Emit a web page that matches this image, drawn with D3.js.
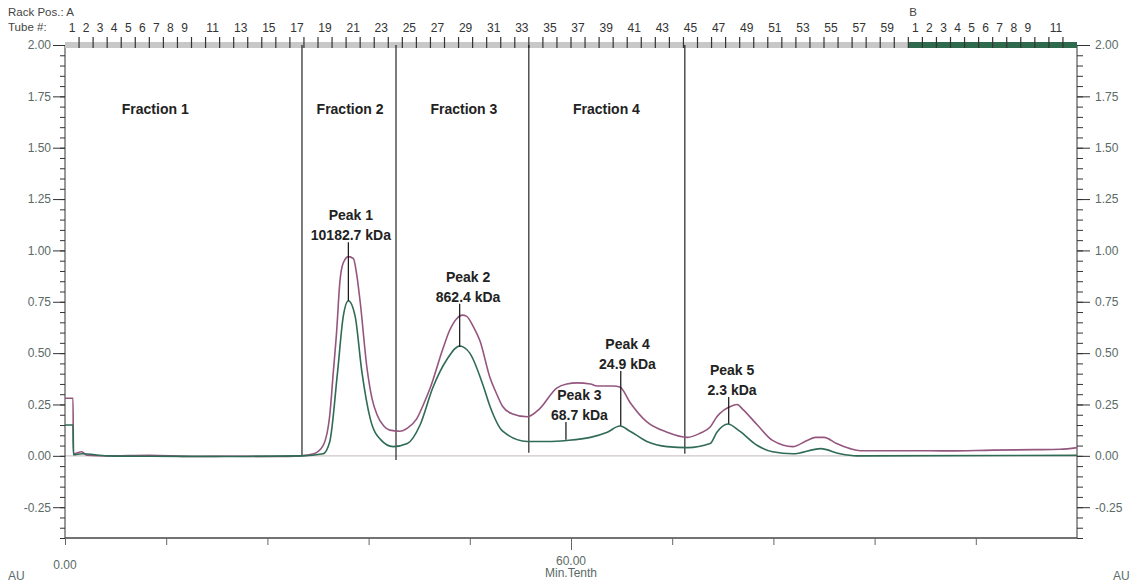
<!DOCTYPE html>
<html>
<head>
<meta charset="utf-8">
<script src="https://cdn.jsdelivr.net/npm/d3@7"></script>
<style>
  body { margin: 0; background: #fff; }
  text { font-family: "Liberation Sans", Arial, sans-serif; }
  .axisText { fill: #5a6a66; font-size: 12px; }
  .peakText { fill: #222; font-size: 14px; font-weight: bold; }
</style>
</head>
<body>
<div id="chart"></div>
<script>
// Chromatogram data (time in Min.Tenth, absorbance in AU)
var purpleTime = [0, 0.95, 1.0, 2.0, 2.6, 5, 10, 15, 20, 25, 28, 29.5, 30.6, 31.4, 31.8, 32.2, 32.6, 33.0, 33.6, 34.2, 34.6, 35.0, 35.8, 36.4, 37.0, 37.8, 38.5, 39.7, 40.6, 41.7, 42.5, 43.3, 44.8, 45.6, 46.5, 47.1, 47.6, 48.4, 49.2, 50.4, 51.2, 51.9, 53.0, 54.8, 56.3, 58.3, 59.5, 60.7, 62.3, 63.1, 65.0, 65.8, 67.0, 69.0, 71.4, 73.8, 75.3, 76.5, 77.3, 79.2, 79.7, 80.4, 82.1, 83.9, 86.3, 88.0, 89.0, 90.0, 91.5, 93.1, 94.3, 100, 105, 110, 115, 118, 120];
var purpleValue = [0.28, 0.28, 0.01, 0.02, 0.003, 0.0, 0.003, -0.003, -0.002, -0.003, 0.0, 0.01, 0.05, 0.2, 0.4, 0.6, 0.85, 0.94, 0.97, 0.96, 0.88, 0.75, 0.43, 0.28, 0.2, 0.145, 0.125, 0.12, 0.135, 0.18, 0.25, 0.33, 0.52, 0.61, 0.67, 0.685, 0.68, 0.63, 0.56, 0.38, 0.3, 0.24, 0.205, 0.19, 0.23, 0.33, 0.35, 0.355, 0.35, 0.34, 0.34, 0.335, 0.26, 0.165, 0.115, 0.09, 0.11, 0.14, 0.19, 0.245, 0.25, 0.225, 0.15, 0.075, 0.045, 0.075, 0.09, 0.09, 0.06, 0.035, 0.025, 0.025, 0.024, 0.028, 0.03, 0.032, 0.04];

var greenTime = [0, 0.95, 1.0, 2, 5, 10, 20, 28, 30.6, 31.4, 32.3, 33.0, 33.6, 34.4, 35.2, 36.2, 37.4, 38.9, 40.6, 42.1, 43.6, 45.3, 46.8, 48.0, 49.6, 50.4, 51.9, 54.8, 57.2, 59.5, 62.3, 64.3, 65.8, 67.0, 69.0, 71.4, 73.8, 76.5, 77.3, 78.6, 80.0, 82.1, 83.9, 86.3, 89.6, 91.9, 93.9, 120];
var greenValue = [0.15, 0.15, 0.005, 0.01, 0.0, -0.002, -0.003, 0.0, 0.01, 0.07, 0.4, 0.68, 0.755, 0.68, 0.41, 0.18, 0.08, 0.045, 0.06, 0.15, 0.33, 0.47, 0.535, 0.5, 0.34, 0.24, 0.12, 0.07, 0.07, 0.075, 0.09, 0.115, 0.145, 0.12, 0.07, 0.045, 0.04, 0.06, 0.115, 0.155, 0.12, 0.05, 0.02, 0.01, 0.035, 0.01, 0.0, 0.002];

// Fractions
var fractionNames = ["Fraction 1", "Fraction 2", "Fraction 3", "Fraction 4"];
var fractionLabelTime = [10.7, 33.8, 47.3, 64.2];
var fractionCuts = [28.1, 39.25, 55.0, 73.5];
var fractionCutBottoms = [0.0, -0.02, 0.015, 0.01];

// Peaks
var peakNames = ["Peak 1", "Peak 2", "Peak 3", "Peak 4", "Peak 5"];
var peakMass = ["10182.7 kDa", "862.4 kDa", "68.7 kDa", "24.9 kDa", "2.3 kDa"];
var peakTime = [33.6, 46.8, 59.4, 65.9, 78.7];
var peakTop = [1.04, 0.74, 0.165, 0.413, 0.287];
var peakBottom = [0.755, 0.53, 0.078, 0.146, 0.156];
var peakLabelTime = [33.9, 47.8, 61.0, 66.7, 79.1];

// Fraction collector racks
var rackATubes = 60;
var rackBTubes = 12;
var tubeWidth = 5 / 3;
var rackALabels = [1, 2, 3, 4, 5, 6, 7, 8, 9, 11, 13, 15, 17, 19, 21, 23, 25, 27, 29, 31, 33, 35, 37, 39, 41, 43, 45, 47, 49, 51, 53, 55, 57, 59];
var rackBLabels = [1, 2, 3, 4, 5, 6, 7, 8, 9, 11];

var svgWidth = 1132;
var svgHeight = 583;
var margin = { top: 45, right: 55, bottom: 45, left: 65 };
var width = svgWidth - margin.left - margin.right;
var height = svgHeight - margin.top - margin.bottom;

var svg = d3.select("#chart")
  .append("svg")
  .attr("width", svgWidth)
  .attr("height", svgHeight);

var chartGroup = svg.append("g")
  .attr("transform", `translate(${margin.left}, ${margin.top})`);

var xScale = d3.scaleLinear().domain([0, 120]).range([0, width]);
var yScale = d3.scaleLinear().domain([-0.4, 2.0]).range([height, 0]);

// plain hyphen instead of unicode minus
var auFormat = d => d3.format(".2f")(d).replace("\u2212", "-");

// Zero baseline
chartGroup.append("line")
  .attr("x1", 0).attr("x2", width)
  .attr("y1", yScale(0)).attr("y2", yScale(0))
  .attr("stroke", "#cfc6ca")
  .attr("stroke-width", 1.2);

// Left axis: major + minor ticks
var majorTicks = d3.range(-0.25, 2.0001, 0.25);
var minorTicks = d3.range(-0.4, 2.0001, 0.05);

chartGroup.append("g")
  .call(d3.axisLeft(yScale).tickValues(minorTicks).tickSize(5).tickFormat(""))
  .call(g => g.select(".domain").remove())
  .selectAll("line").attr("stroke", "#333");

var leftAxis = chartGroup.append("g")
  .call(d3.axisLeft(yScale).tickValues(majorTicks).tickSize(12).tickPadding(2).tickFormat(auFormat));
leftAxis.select(".domain").attr("stroke", "#333").attr("d", `M0,0V${height}`);
leftAxis.selectAll("line").attr("stroke", "#333");
leftAxis.selectAll("text").attr("class", "axisText").attr("font-size", 12).attr("fill", "#56706a");

// Right axis
chartGroup.append("g")
  .attr("transform", `translate(${width}, 0)`)
  .call(d3.axisRight(yScale).tickValues(minorTicks).tickSize(6).tickFormat(""))
  .call(g => g.select(".domain").remove())
  .selectAll("line").attr("stroke", "#333");

var rightAxis = chartGroup.append("g")
  .attr("transform", `translate(${width}, 0)`)
  .call(d3.axisRight(yScale).tickValues(majorTicks).tickSize(13).tickPadding(5).tickFormat(auFormat));
rightAxis.select(".domain").attr("stroke", "#333").attr("d", `M0,0V${height}`);
rightAxis.selectAll("line").attr("stroke", "#333");
rightAxis.selectAll("text").attr("class", "axisText").attr("font-size", 12).attr("fill", "#7a7a7a");

// Bottom axis
var bottomAxis = chartGroup.append("g")
  .attr("transform", `translate(0, ${height})`)
  .call(d3.axisBottom(xScale).tickValues(d3.range(0, 120, 12)).tickSize(7).tickFormat(""));
bottomAxis.select(".domain").attr("stroke", "#444").attr("stroke-width", 1.5).attr("d", `M0,0H${width}`);
bottomAxis.selectAll("line").attr("stroke", "#666");
bottomAxis.selectAll(".tick").filter(d => d === 60).select("line").attr("y2", 12);

chartGroup.append("text")
  .attr("class", "axisText")
  .attr("x", xScale(0)).attr("y", height + 31)
  .attr("text-anchor", "middle")
  .attr("fill", "#555")
  .text("0.00");

chartGroup.append("text")
  .attr("class", "axisText")
  .attr("x", xScale(60)).attr("y", height + 27)
  .attr("text-anchor", "middle")
  .attr("fill", "#555")
  .text("60.00");

chartGroup.append("text")
  .attr("class", "axisText")
  .attr("x", xScale(60)).attr("y", height + 39)
  .attr("text-anchor", "middle")
  .attr("font-size", 11)
  .attr("fill", "#555")
  .text("Min.Tenth");

svg.append("text").attr("class", "axisText").attr("x", 8).attr("y", 580).attr("fill", "#555").text("AU");
svg.append("text").attr("class", "axisText").attr("x", 1113).attr("y", 580).attr("fill", "#555").text("AU");

// Rack / tube bar on top
var tubeX = t => xScale((t - 0.5) * tubeWidth);

chartGroup.append("rect")
  .attr("x", xScale(0)).attr("y", -3)
  .attr("width", xScale(rackATubes * tubeWidth) - xScale(0)).attr("height", 6)
  .attr("fill", "#c8c8c8");

chartGroup.append("rect")
  .attr("x", xScale(rackATubes * tubeWidth)).attr("y", -3)
  .attr("width", xScale((rackATubes + rackBTubes) * tubeWidth) - xScale(rackATubes * tubeWidth)).attr("height", 6)
  .attr("fill", "#2f6a4e");

chartGroup.selectAll(".tubeTick")
  .data(d3.range(1, rackATubes + rackBTubes))
  .enter()
  .append("line")
  .attr("class", "tubeTick")
  .attr("x1", d => xScale(d * tubeWidth)).attr("x2", d => xScale(d * tubeWidth))
  .attr("y1", -8).attr("y2", 3)
  .attr("stroke", "#333")
  .attr("stroke-width", 1.2);

chartGroup.selectAll(".tubeA")
  .data(rackALabels)
  .enter()
  .append("text")
  .attr("class", "tubeA")
  .attr("x", d => tubeX(d)).attr("y", -13)
  .attr("text-anchor", "middle")
  .attr("font-size", 12)
  .attr("fill", "#333")
  .text(d => d);

chartGroup.selectAll(".tubeB")
  .data(rackBLabels)
  .enter()
  .append("text")
  .attr("class", "tubeB")
  .attr("x", d => tubeX(d + rackATubes)).attr("y", -13)
  .attr("text-anchor", "middle")
  .attr("font-size", 12)
  .attr("fill", "#333")
  .text(d => d);

svg.append("text").attr("x", 8).attr("y", 16).attr("font-size", 11.5).attr("fill", "#444").text("Rack Pos.: A");
svg.append("text").attr("x", 8).attr("y", 31).attr("font-size", 11.5).attr("fill", "#444").text("Tube #:");
chartGroup.append("text")
  .attr("x", xScale(rackATubes * tubeWidth) + 1).attr("y", -29)
  .attr("font-size", 11.5).attr("fill", "#444")
  .text("B");

// Fraction cut lines
chartGroup.selectAll(".fractionCut")
  .data(fractionCuts)
  .enter()
  .append("line")
  .attr("class", "fractionCut")
  .attr("x1", d => xScale(d)).attr("x2", d => xScale(d))
  .attr("y1", 0)
  .attr("y2", (d, i) => yScale(fractionCutBottoms[i]))
  .attr("stroke", "#111")
  .attr("stroke-width", 1.1);

chartGroup.selectAll(".fractionText")
  .data(fractionNames)
  .enter()
  .append("text")
  .attr("class", "peakText")
  .attr("x", (d, i) => xScale(fractionLabelTime[i]))
  .attr("y", 69)
  .attr("text-anchor", "middle")
  .text(d => d);

// Traces
var purpleData = purpleTime.map((t, i) => ({ t: t, v: purpleValue[i] }));
var greenData = greenTime.map((t, i) => ({ t: t, v: greenValue[i] }));

var traceLine = d3.line()
  .x(d => xScale(d.t))
  .y(d => yScale(d.v))
  .curve(d3.curveMonotoneX);

chartGroup.append("path")
  .datum(purpleData)
  .attr("d", traceLine)
  .attr("fill", "none")
  .attr("stroke", "#94567f")
  .attr("stroke-width", 1.6);

chartGroup.append("path")
  .datum(greenData)
  .attr("d", traceLine)
  .attr("fill", "none")
  .attr("stroke", "#2f6b55")
  .attr("stroke-width", 1.6);

// Peak markers and labels
chartGroup.selectAll(".peakLine")
  .data(peakTime)
  .enter()
  .append("line")
  .attr("class", "peakLine")
  .attr("x1", d => xScale(d)).attr("x2", d => xScale(d))
  .attr("y1", (d, i) => yScale(peakTop[i]))
  .attr("y2", (d, i) => yScale(peakBottom[i]))
  .attr("stroke", "#111")
  .attr("stroke-width", 1.2);

chartGroup.selectAll(".peakName")
  .data(peakNames)
  .enter()
  .append("text")
  .attr("class", "peakText")
  .attr("x", (d, i) => xScale(peakLabelTime[i]))
  .attr("y", (d, i) => yScale(peakTop[i]) - 22)
  .attr("text-anchor", "middle")
  .text(d => d);

chartGroup.selectAll(".peakMass")
  .data(peakMass)
  .enter()
  .append("text")
  .attr("class", "peakText")
  .attr("x", (d, i) => xScale(peakLabelTime[i]))
  .attr("y", (d, i) => yScale(peakTop[i]) - 2)
  .attr("text-anchor", "middle")
  .text(d => d);
</script>
</body>
</html>
